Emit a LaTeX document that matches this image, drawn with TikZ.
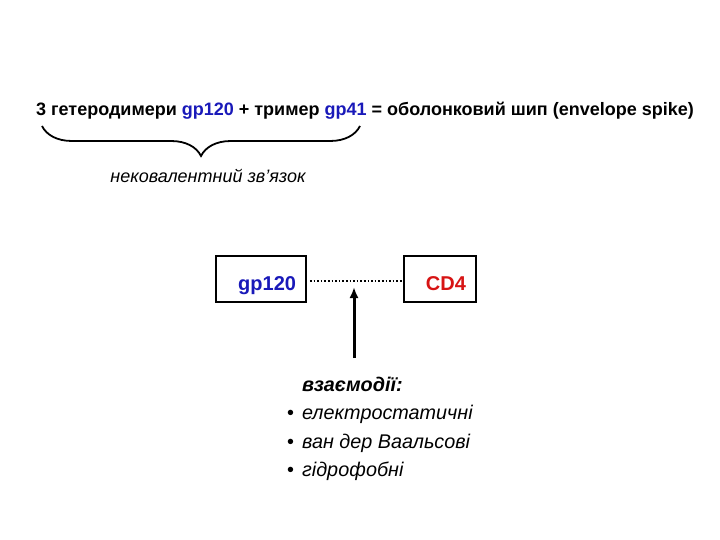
\documentclass[tikz,border=0pt]{standalone}
\usepackage{fontspec}
\setmainfont{Liberation Sans}
\usetikzlibrary{arrows.meta,decorations.pathreplacing}

\definecolor{gpblue}{RGB}{25,25,185}
\definecolor{cdred}{RGB}{215,20,20}

\begin{document}
\begin{tikzpicture}[x=1pt,y=-1pt,
  protbox/.style={draw, line width=1.8pt, inner xsep=10pt, inner ysep=0pt,
    minimum height=46pt, text height=22pt, text depth=0pt, align=right,
    font=\fontsize{20}{24}\selectfont\bfseries}]

\useasboundingbox (0,0) rectangle (720,540);

\node (title) at (365,111) {\fontsize{18}{20}\selectfont\bfseries 3 гетеродимери
  \textcolor{gpblue}{gp120} + тример \textcolor{gpblue}{gp41} = оболонковий шип (envelope spike)};

% brace under the heterodimers and trimer
\draw[line width=1.8pt, decorate, decoration={brace, mirror, amplitude=30pt}]
  (42,126) -- (360,126);
 \node (bond) at (208,176) {\fontsize{18}{20}\selectfont\itshape нековалентний зв’язок};

 \node[protbox, text width=70pt, text=gpblue] (gp) at (261,279) {gp120};
 \node[protbox, text width=52pt, text=cdred] (cd) at (440,279) {CD4};

\coordinate (hit) at (354,281);
\coordinate (base) at (354,358);
\draw[line width=1.6pt, dotted, shorten <=3pt] (gp.east |- hit) -- (cd.west |- hit);
\draw[line width=3pt, -{Latex[length=11pt,width=9pt]}, shorten >=6pt] (base) -- (hit);

 \node[anchor=north west, inner sep=0pt] (forces) at (287,371) {\fontsize{19.8}{28.5}\selectfont
  \begin{tabular}{@{}l@{\hspace{8pt}}l@{}}
   & \textbf{\textit{взаємодії:}}\\
  \textbullet & \textit{електростатичні}\\
  \textbullet & \textit{ван дер Ваальсові}\\
  \textbullet & \textit{гідрофобні}
  \end{tabular}};

\end{tikzpicture}
\end{document}
